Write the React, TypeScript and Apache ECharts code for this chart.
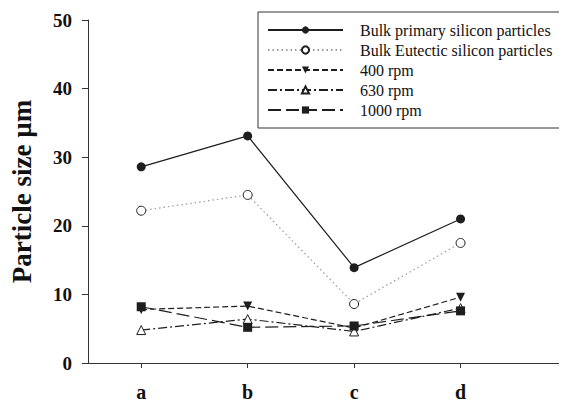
import React, { useEffect, useRef } from "react";
import * as echarts from "echarts";

const categories = ["a", "b", "c", "d"];
const seriesNames = [
  "Bulk primary silicon particles",
  "Bulk Eutectic silicon particles",
  "400 rpm",
  "630 rpm",
  "1000 rpm",
];
const bulkPrimary = [28.6, 33.1, 13.9, 21.0];
const bulkEutectic = [22.2, 24.5, 8.6, 17.5];
const rpm400 = [7.8, 8.3, 5.1, 9.6];
const rpm630 = [4.8, 6.4, 4.6, 8.0];
const rpm1000 = [8.2, 5.2, 5.4, 7.6];
const yTicks = [0, 10, 20, 30, 40, 50];

const FONT = "Liberation Serif";

export default function App() {
  const ref = useRef<HTMLDivElement>(null);
  useEffect(() => {
    if (!ref.current) return;
    const chart = echarts.init(ref.current, undefined, { renderer: "svg" });
    const pts = (vals: number[]) => vals.map((v, i) => [i + 1, v]);
    const ink = "#1e1e1e";
    const mk = (
      name: string,
      vals: number[],
      symbol: string,
      size: number,
      lineType: any,
      lineColor: string,
      filled: boolean,
      rotate = 0
    ) => ({
      name,
      type: "line",
      data: pts(vals),
      symbol,
      symbolSize: size,
      symbolRotate: rotate,
      lineStyle: { color: lineColor, width: 1.2, type: lineType },
      itemStyle: filled
        ? { color: ink, borderColor: ink, borderWidth: 0 }
        : { color: "#fff", borderColor: ink, borderWidth: 1 },
      emphasis: { disabled: true },
      z: 3,
    });
    chart.setOption({
      animation: false,
      grid: { left: 86, right: 0, top: 20, bottom: 39, containLabel: false },
      legend: {
        orient: "vertical",
        left: 258,
        top: 12,
        padding: [10, 10, 10, 9],
        itemWidth: 75,
        itemHeight: 9,
        itemGap: 4,
        borderColor: "#333",
        borderWidth: 1,
        backgroundColor: "#fff",
        selectedMode: false,
        data: seriesNames,
        textStyle: {
          fontFamily: FONT,
          fontSize: 16,
          color: "#111",
          padding: [0, 0, 0, 12],
        },
      },
      xAxis: {
        type: "value",
        min: 0.5,
        max: 5,
        splitLine: { show: false },
        axisLine: { show: true, lineStyle: { color: "#333", width: 1 } },
        axisTick: {
          show: true,
          length: 5,
          customValues: [1, 2, 3, 4],
          lineStyle: { color: "#333" },
        },
        axisLabel: {
          customValues: [1, 2, 3, 4],
          margin: 19,
          fontFamily: FONT,
          fontWeight: "bold",
          fontSize: 20,
          color: "#111",
          formatter: (v: number) => categories[Math.round(v) - 1] ?? "",
        },
      },
      yAxis: {
        type: "value",
        min: 0,
        max: 50,
        interval: 10,
        name: "Particle size \u00b5m",
        nameLocation: "middle",
        nameRotate: 90,
        nameGap: 53,
        nameTextStyle: {
          fontFamily: FONT,
          fontWeight: "bold",
          fontSize: 27,
          color: "#111",
        },
        splitLine: { show: false },
        axisLine: { show: true, lineStyle: { color: "#333", width: 1 } },
        axisTick: { show: true, length: 6, lineStyle: { color: "#333" } },
        axisLabel: {
          margin: 16,
          fontFamily: FONT,
          fontWeight: "bold",
          fontSize: 19,
          color: "#111",
          formatter: (v: number) => (yTicks.includes(v) ? String(v) : ""),
        },
      },
      series: [
        mk(seriesNames[0], bulkPrimary, "circle", 9, "solid", ink, true),
        mk(seriesNames[1], bulkEutectic, "circle", 9, [1.5, 3], "#9a9a9a", false),
        mk(seriesNames[2], rpm400, "triangle", 9, [6, 3], ink, true, 180),
        mk(seriesNames[3], rpm630, "triangle", 9, [9, 3, 2, 3], ink, false),
        mk(seriesNames[4], rpm1000, "rect", 9, [13, 5], ink, true),
      ],
    });
    return () => chart.dispose();
  }, []);
  return <div ref={ref} style={{ width: 567, height: 402, marginLeft: -8, marginTop: -8 }} />;
}
